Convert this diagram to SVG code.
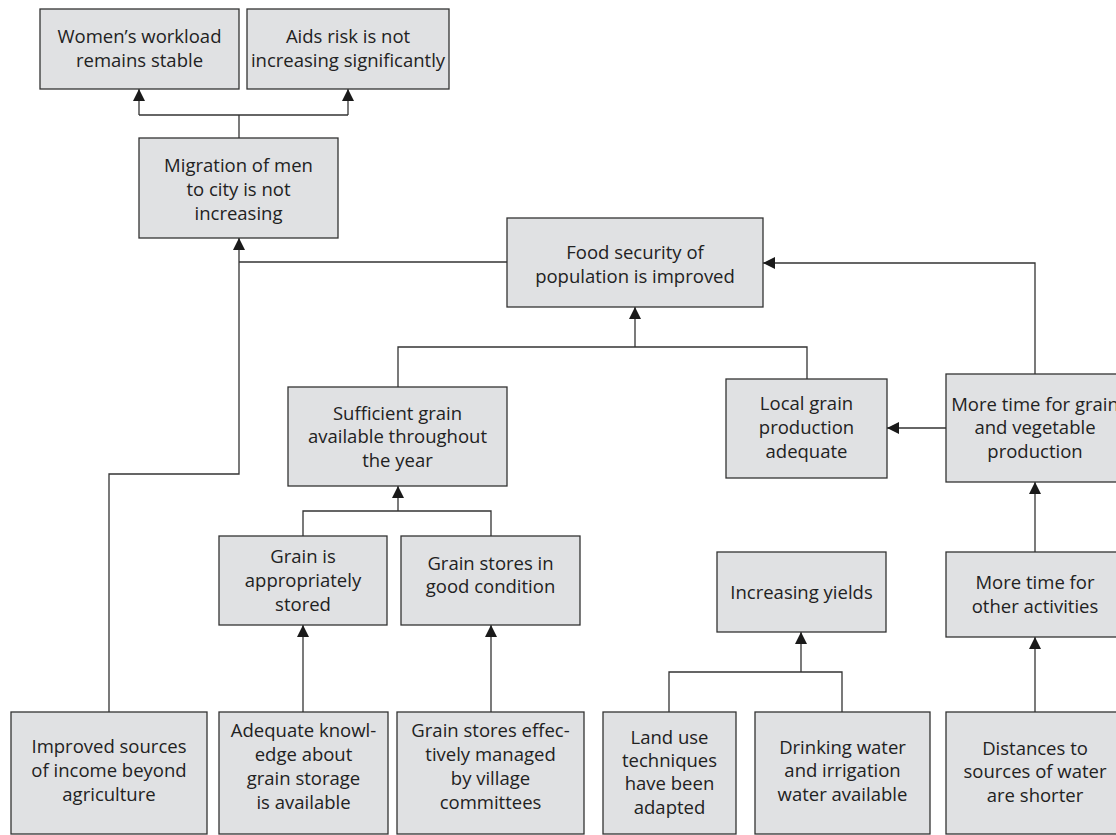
<svg xmlns="http://www.w3.org/2000/svg" width="1116" height="835" viewBox="0 0 1116 835">
  <style>
    .box { fill: #e0e1e3; stroke: #333333; stroke-width: 1.3; }
    .lbl { font-family: "Open Sans", "DejaVu Sans", sans-serif; font-size: 18.5px; fill: #222222; text-anchor: middle; }
    .wire { fill: none; stroke: #333333; stroke-width: 1.3; }
  </style>
  <defs>
    <marker id="head" viewBox="0 0 12 12" refX="12" refY="6" markerWidth="12" markerHeight="12" markerUnits="userSpaceOnUse" orient="auto">
      <path d="M0,0 L12,6 L0,12 Z" fill="#1a1a1a"/>
    </marker>
  </defs>
  <rect width="1116" height="835" fill="#ffffff"/>

  <!-- connectors -->
  <g id="connectors">
    <!-- migration leads to workload and aids risk -->
    <path class="wire" d="M239,138 V115"/>
    <path class="wire" d="M139,115 H348"/>
    <path class="wire" d="M139,115 V89" marker-end="url(#head)"/>
    <path class="wire" d="M348,115 V89" marker-end="url(#head)"/>
    <!-- food security and income into migration -->
    <path class="wire" d="M507,262 H239"/>
    <path class="wire" d="M109,712 V474 H239 V238" marker-end="url(#head)"/>
    <!-- sufficient grain and local production into food security -->
    <path class="wire" d="M398,388 V347 H807 V379"/>
    <path class="wire" d="M635,347 V307" marker-end="url(#head)"/>
    <!-- more time for production into food security -->
    <path class="wire" d="M1035,374 V263 H763" marker-end="url(#head)"/>
    <!-- more time for production into local grain production -->
    <path class="wire" d="M946,428 H887" marker-end="url(#head)"/>
    <!-- storage into sufficient grain -->
    <path class="wire" d="M303,536 V511 H491 V536"/>
    <path class="wire" d="M398,511 V486" marker-end="url(#head)"/>
    <path class="wire" d="M303,712 V625" marker-end="url(#head)"/>
    <path class="wire" d="M491,712 V625" marker-end="url(#head)"/>
    <!-- land use and water into yields -->
    <path class="wire" d="M669,712 V672 H842 V712"/>
    <path class="wire" d="M801,672 V632" marker-end="url(#head)"/>
    <!-- time chain on the right -->
    <path class="wire" d="M1035,552 V482" marker-end="url(#head)"/>
    <path class="wire" d="M1035,712 V637" marker-end="url(#head)"/>
  </g>

  <!-- nodes -->
  <g id="womens-workload">
    <rect class="box" x="40" y="9" width="199" height="80"/>
    <text class="lbl" x="139.5" y="43">Women’s workload</text>
    <text class="lbl" x="139.5" y="67">remains stable</text>
  </g>
  <g id="aids-risk">
    <rect class="box" x="247" y="9" width="202" height="80"/>
    <text class="lbl" x="348" y="43">Aids risk is not</text>
    <text class="lbl" x="348" y="67">increasing significantly</text>
  </g>
  <g id="migration">
    <rect class="box" x="139" y="138" width="199" height="100"/>
    <text class="lbl" x="238.5" y="172">Migration of men</text>
    <text class="lbl" x="238.5" y="196">to city is not</text>
    <text class="lbl" x="238.5" y="220">increasing</text>
  </g>
  <g id="food-security">
    <rect class="box" x="507" y="218" width="256" height="89"/>
    <text class="lbl" x="635" y="259">Food security of</text>
    <text class="lbl" x="635" y="283">population is improved</text>
  </g>
  <g id="sufficient-grain">
    <rect class="box" x="288" y="387" width="219" height="99"/>
    <text class="lbl" x="397.5" y="420">Sufficient grain</text>
    <text class="lbl" x="397.5" y="443">available throughout</text>
    <text class="lbl" x="397.5" y="467">the year</text>
  </g>
  <g id="local-production">
    <rect class="box" x="726" y="379" width="161" height="99"/>
    <text class="lbl" x="806.5" y="410">Local grain</text>
    <text class="lbl" x="806.5" y="434">production</text>
    <text class="lbl" x="806.5" y="458">adequate</text>
  </g>
  <g id="time-for-production">
    <rect class="box" x="946" y="374" width="178" height="108"/>
    <text class="lbl" x="1035" y="411">More time for grain</text>
    <text class="lbl" x="1035" y="434">and vegetable</text>
    <text class="lbl" x="1035" y="458">production</text>
  </g>
  <g id="grain-stored">
    <rect class="box" x="219" y="536" width="168" height="89"/>
    <text class="lbl" x="303" y="563">Grain is</text>
    <text class="lbl" x="303" y="587">appropriately</text>
    <text class="lbl" x="303" y="611">stored</text>
  </g>
  <g id="grain-stores-condition">
    <rect class="box" x="401" y="536" width="179" height="89"/>
    <text class="lbl" x="490.5" y="570">Grain stores in</text>
    <text class="lbl" x="490.5" y="593">good condition</text>
  </g>
  <g id="increasing-yields">
    <rect class="box" x="717" y="552" width="169" height="80"/>
    <text class="lbl" x="801.5" y="599">Increasing yields</text>
  </g>
  <g id="time-for-other">
    <rect class="box" x="946" y="552" width="178" height="85"/>
    <text class="lbl" x="1035" y="589">More time for</text>
    <text class="lbl" x="1035" y="613">other activities</text>
  </g>
  <g id="income-sources">
    <rect class="box" x="11" y="712" width="196" height="122"/>
    <text class="lbl" x="109" y="753">Improved sources</text>
    <text class="lbl" x="109" y="777">of income beyond</text>
    <text class="lbl" x="109" y="801">agriculture</text>
  </g>
  <g id="storage-knowledge">
    <rect class="box" x="219" y="712" width="169" height="122"/>
    <text class="lbl" x="303.5" y="737">Adequate knowl-</text>
    <text class="lbl" x="303.5" y="761">edge about</text>
    <text class="lbl" x="303.5" y="785">grain storage</text>
    <text class="lbl" x="303.5" y="809">is available</text>
  </g>
  <g id="stores-managed">
    <rect class="box" x="397" y="712" width="187" height="122"/>
    <text class="lbl" x="490.5" y="737">Grain stores effec-</text>
    <text class="lbl" x="490.5" y="761">tively managed</text>
    <text class="lbl" x="490.5" y="785">by village</text>
    <text class="lbl" x="490.5" y="809">committees</text>
  </g>
  <g id="land-use">
    <rect class="box" x="603" y="712" width="133" height="122"/>
    <text class="lbl" x="669.5" y="744">Land use</text>
    <text class="lbl" x="669.5" y="767">techniques</text>
    <text class="lbl" x="669.5" y="790">have been</text>
    <text class="lbl" x="669.5" y="814">adapted</text>
  </g>
  <g id="water-available">
    <rect class="box" x="755" y="712" width="175" height="122"/>
    <text class="lbl" x="842.5" y="754">Drinking water</text>
    <text class="lbl" x="842.5" y="777">and irrigation</text>
    <text class="lbl" x="842.5" y="801">water available</text>
  </g>
  <g id="water-distances">
    <rect class="box" x="946" y="712" width="178" height="122"/>
    <text class="lbl" x="1035" y="755">Distances to</text>
    <text class="lbl" x="1035" y="778">sources of water</text>
    <text class="lbl" x="1035" y="802">are shorter</text>
  </g>
</svg>
